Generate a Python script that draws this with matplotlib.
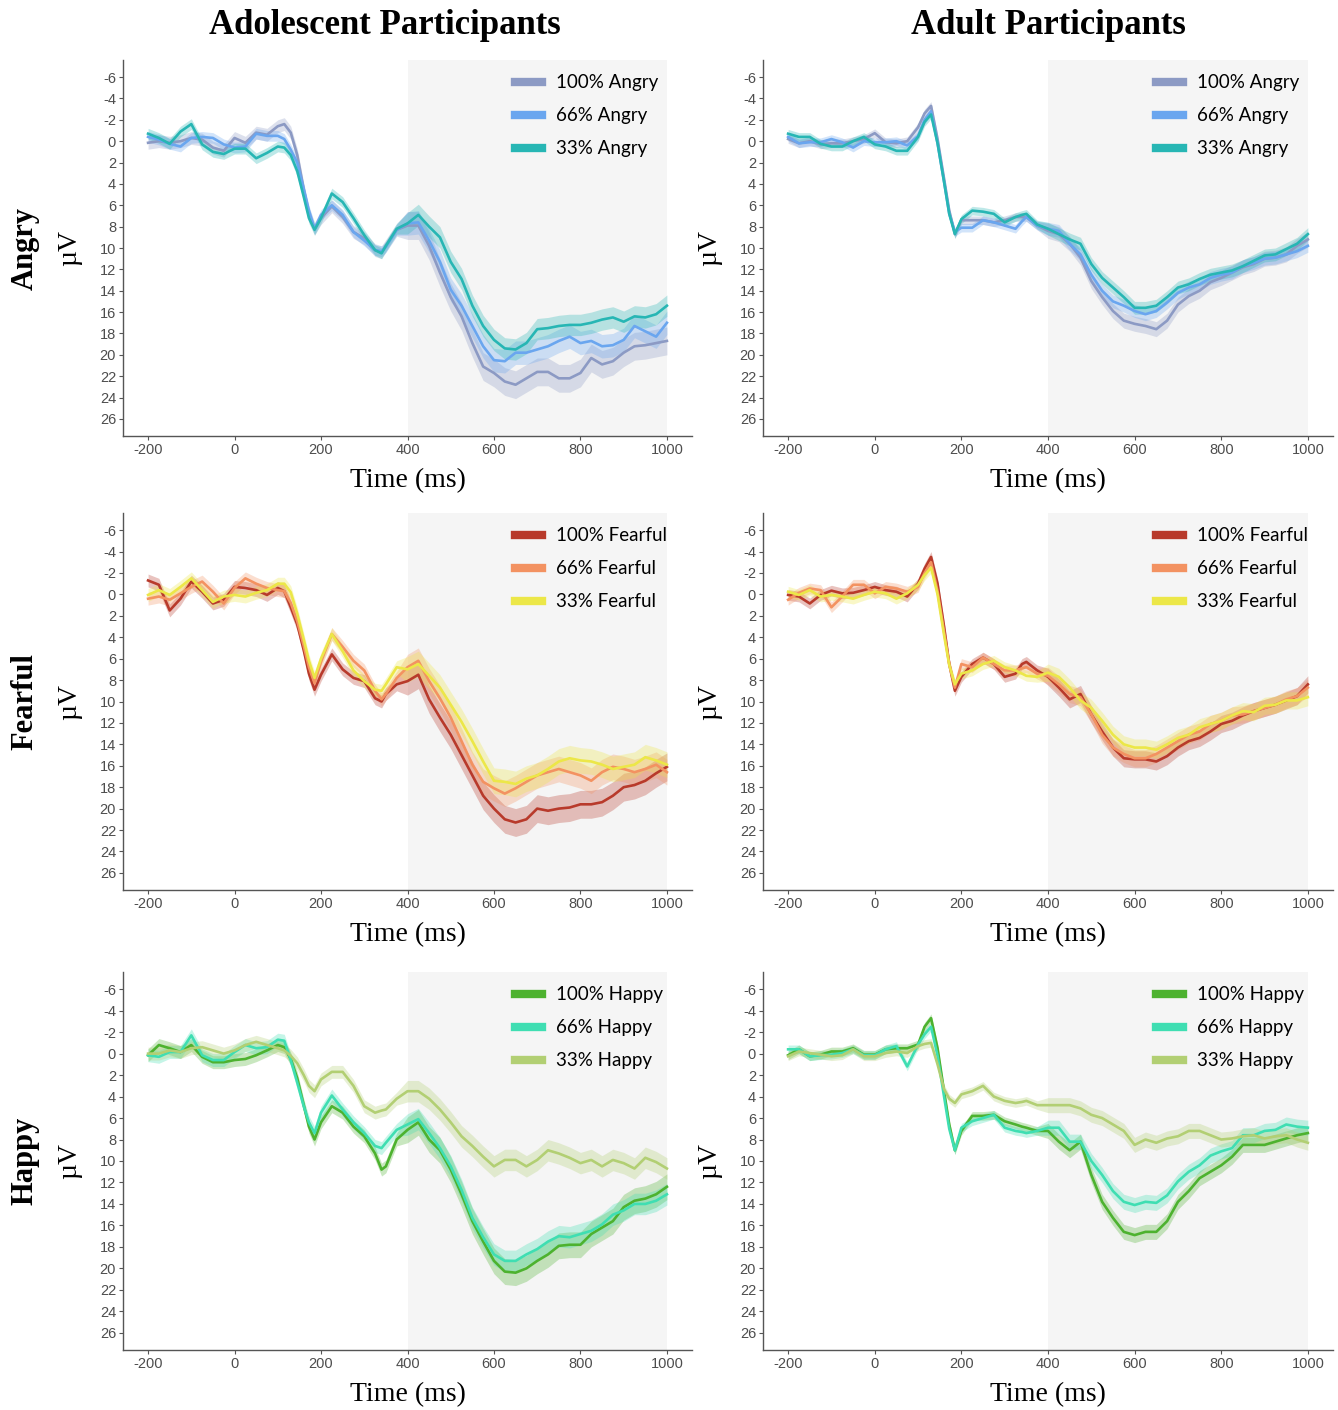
import numpy as np
import matplotlib
matplotlib.use("Agg")
import matplotlib.pyplot as plt
from matplotlib.lines import Line2D

# ---------------- data ----------------
time_ms = [-200, -175, -150, -125, -100, -75, -50, -25, 0, 25, 50, 75, 100,
           115, 130, 145, 160, 172, 185, 200, 225, 250, 275, 300, 325, 340, 350,
           375, 400, 425, 450, 475, 500, 525, 550, 575, 600, 625, 650, 675, 700,
           725, 750, 775, 800, 825, 850, 875, 900, 925, 950, 975, 1000]

column_titles = ["Adolescent Participants", "Adult Participants"]
emotions = ["Angry", "Fearful", "Happy"]
intensities = ["100%", "66%", "33%"]

x_ticks = [-200, 0, 200, 400, 600, 800, 1000]
y_ticks = list(range(-6, 27, 2))
window = [400, 1000]

# Adolescent Angry
ado_angry_100 = [0.15, 0, 0.15, 0, -0.3, -0.15, 0.6, 0.9, -0.3, 0.15, -0.8, -0.6, -1.4,
                 -1.6, -0.8, 1.3, 4.5, 6.8, 8.2, 7.2, 6.1, 7.1, 8.5, 9.1, 10.2, 10.4, 9.8,
                 8.3, 7.9, 7.9, 9.8, 12.3, 14.6, 16.4, 18.9, 21.1, 21.7, 22.5, 22.8, 22.2, 21.6,
                 21.6, 22.2, 22.2, 21.7, 20.3, 20.9, 20.6, 19.8, 19.2, 19.1, 18.9, 18.7]
ado_angry_66 = [-0.4, -0.15, 0.25, 0.5, -0.3, -0.4, -0.3, 0.3, 0.6, 0.5, -0.7, -0.5, -0.5,
                -0.2, 0.8, 2.0, 4.5, 6.5, 8.2, 6.9, 6.0, 6.9, 8.5, 9.3, 10.2, 10.3, 9.9,
                8.3, 7.7, 7.6, 9.3, 11.3, 13.9, 15.4, 17.3, 19.2, 20.5, 20.6, 19.8, 19.8, 19.5,
                19.2, 18.7, 18.3, 18.9, 18.7, 19.2, 19.1, 18.6, 17.3, 17.8, 18.3, 17.0]
ado_angry_33 = [-0.7, -0.3, 0.25, -0.9, -1.6, 0.3, 1.0, 1.2, 0.7, 0.7, 1.6, 1.1, 0.5,
                0.6, 1.3, 2.8, 5.2, 7.2, 8.3, 7.2, 4.9, 5.7, 7.2, 8.8, 10.2, 10.5, 9.8,
                8.2, 7.7, 6.9, 8.0, 9.0, 11.3, 12.9, 15.4, 17.3, 18.6, 19.4, 19.5, 18.9, 17.6,
                17.5, 17.3, 17.2, 17.2, 17.0, 16.7, 16.5, 16.9, 16.4, 16.5, 16.2, 15.4]

# Adult Angry
adu_angry_100 = [-0.2, 0.2, 0, 0.3, 0.2, 0.2, 0, -0.2, -0.75, 0.1, 0.2, 0, -1.3,
                 -2.6, -3.3, -0.2, 3.5, 6.5, 8.7, 7.4, 7.4, 7.4, 7.6, 7.4, 7.1, 7.1, 7.1,
                 7.9, 8.4, 8.7, 9.6, 10.9, 13.1, 14.6, 15.9, 16.8, 17.1, 17.3, 17.6, 16.8, 15.3,
                 14.5, 14.0, 13.2, 12.8, 12.3, 11.8, 11.5, 11.0, 10.9, 10.6, 9.8, 9.2]
adu_angry_66 = [-0.4, 0.2, 0.1, 0.1, -0.2, 0.1, 0.6, 0, 0.1, 0.1, 0, 0.4, -0.5,
                -2.0, -2.8, 0.2, 3.8, 6.8, 8.5, 8.1, 8.1, 7.4, 7.6, 7.9, 8.2, 7.5, 7.1,
                7.9, 8.2, 8.4, 9.6, 10.6, 12.5, 14.0, 15.0, 15.4, 15.9, 16.2, 15.9, 15.1, 14.2,
                13.7, 13.4, 12.8, 12.5, 12.3, 11.7, 11.4, 11.0, 10.9, 10.6, 10.3, 9.8]
adu_angry_33 = [-0.7, -0.4, -0.4, 0.25, 0.5, 0.5, 0, -0.4, 0.3, 0.5, 0.9, 0.9, -0.4,
                -1.8, -2.5, 0.2, 3.8, 6.8, 8.7, 7.3, 6.5, 6.6, 6.8, 7.6, 7.1, 6.9, 6.8,
                7.8, 8.2, 8.7, 9.2, 9.6, 11.5, 12.8, 13.7, 14.6, 15.6, 15.6, 15.4, 14.6, 13.7,
                13.4, 12.9, 12.5, 12.3, 12.1, 11.7, 11.2, 10.7, 10.6, 10.1, 9.6, 8.7]

# Adolescent Fearful
ado_fear_100 = [-1.3, -0.9, 1.5, 0.4, -1.2, -0.25, 0.85, 0.5, -0.7, -0.6, -0.4, 0.05, -0.6,
                -0.3, 1.2, 2.8, 5.2, 7.4, 8.9, 7.5, 5.6, 7.0, 7.8, 8.1, 9.7, 10.0, 9.3,
                8.4, 8.1, 7.5, 9.8, 11.5, 13.1, 15.0, 16.9, 18.8, 20.0, 21.0, 21.3, 21.0, 20.0,
                20.2, 20.0, 19.9, 19.6, 19.6, 19.4, 18.8, 18.0, 17.8, 17.4, 16.7, 16.1]
ado_fear_66 = [0.4, 0.2, 0.5, -0.1, -0.7, -1.2, -0.25, 0.85, -0.6, -1.5, -1.0, -0.6, -0.4,
               -0.3, 0.8, 2.5, 4.8, 6.8, 8.3, 6.3, 3.7, 4.9, 6.2, 7.1, 9.0, 9.8, 9.3,
               7.8, 6.8, 6.2, 8.1, 9.7, 11.5, 13.7, 15.9, 17.5, 18.1, 18.6, 18.1, 17.5, 16.9,
               16.6, 16.3, 16.6, 16.9, 17.4, 16.6, 16.1, 16.3, 16.6, 16.3, 15.9, 16.6]
ado_fear_33 = [0.05, -0.4, 0.05, -0.7, -1.5, -0.4, 0.7, 0.2, 0.05, 0.2, -0.15, -0.4, -1.0,
               -1.0, -0.2, 1.8, 4.2, 6.2, 7.8, 6.0, 3.7, 5.3, 7.1, 8.1, 8.9, 9.0, 8.4,
               6.8, 7.0, 6.5, 7.6, 8.7, 10.3, 11.9, 13.7, 15.6, 17.4, 17.5, 17.7, 17.2, 16.9,
               16.3, 15.6, 15.3, 15.5, 15.6, 15.9, 16.3, 16.1, 15.9, 15.2, 15.5, 15.9]

# Adult Fearful
adu_fear_100 = [0.05, 0.2, 0.85, 0.05, -0.35, -0.1, -0.15, -0.4, -0.7, -0.4, -0.25, 0.2, -1.0,
                -2.4, -3.5, -1.0, 3.0, 6.5, 9.0, 7.7, 6.5, 5.9, 6.5, 7.7, 7.4, 6.5, 6.3,
                7.1, 7.7, 8.7, 9.8, 9.3, 11.2, 12.8, 14.3, 15.3, 15.4, 15.4, 15.6, 15.1, 14.3,
                13.7, 13.4, 12.8, 12.1, 11.8, 11.3, 10.9, 10.6, 10.3, 9.9, 9.5, 8.4]
adu_fear_66 = [0.5, -0.15, -0.55, -0.4, 1.2, 0.2, -0.9, -0.9, -0.1, -0.7, -0.55, -0.25, -0.7,
               -2.0, -3.0, -0.3, 3.5, 6.5, 8.7, 6.5, 6.8, 5.9, 6.5, 7.1, 7.1, 6.9, 6.8,
               7.4, 7.6, 8.4, 9.3, 9.6, 11.2, 13.1, 14.3, 14.9, 15.3, 15.3, 14.9, 14.3, 13.7,
               13.1, 12.8, 12.1, 11.8, 11.3, 11.2, 10.9, 10.6, 10.3, 9.8, 9.5, 8.7]
adu_fear_33 = [-0.25, 0.05, -0.4, 0.2, 0.05, 0.2, 0.4, 0.05, -0.25, -0.1, 0.4, -0.1, -0.9,
               -1.8, -2.5, 0, 3.8, 6.6, 8.4, 7.4, 7.1, 6.5, 6.2, 6.8, 7.1, 7.4, 7.6,
               7.7, 7.3, 7.7, 8.7, 9.9, 10.6, 11.8, 13.1, 14.0, 14.3, 14.3, 14.5, 14.0, 13.4,
               13.1, 12.4, 12.1, 11.8, 11.3, 10.9, 11.0, 10.4, 10.3, 9.9, 9.9, 9.6]

# Adolescent Happy
ado_happy_100 = [0.15, -0.8, -0.5, -0.15, -0.8, 0.3, 0.8, 0.8, 0.6, 0.5, 0.15, -0.3, -0.8,
                 -0.6, 0.5, 2.3, 4.8, 6.8, 8.0, 6.4, 4.9, 5.5, 6.8, 7.7, 9.3, 10.8, 10.5,
                 8.0, 7.1, 6.4, 8.0, 9.0, 10.8, 13.1, 15.6, 17.5, 19.3, 20.3, 20.4, 20.0, 19.3,
                 18.7, 17.9, 17.8, 17.8, 16.8, 16.2, 15.6, 14.3, 13.7, 13.5, 13.1, 12.4]
ado_happy_66 = [0.15, 0.3, -0.15, -0.15, -1.7, 0.15, 0.6, 0.6, -0.15, -0.8, -0.5, -0.6, -1.3,
                -1.2, 0.6, 2.7, 4.9, 6.4, 7.4, 5.5, 3.9, 5.2, 6.4, 7.4, 8.6, 8.8, 8.3,
                7.1, 6.6, 6.1, 7.4, 8.8, 10.5, 12.7, 15.3, 17.1, 18.7, 19.3, 19.3, 18.7, 18.2,
                17.5, 17.0, 17.1, 16.8, 16.5, 15.9, 15.0, 14.6, 14.0, 14.0, 13.7, 13.1]
ado_happy_33 = [0, 0, -0.3, -0.15, -0.5, -0.6, -0.3, 0, -0.3, -0.8, -1.1, -0.8, -0.5,
                -0.3, 0.2, 0.9, 2.0, 3.0, 3.5, 2.4, 1.7, 1.7, 3.0, 4.9, 5.5, 5.3, 5.2,
                4.2, 3.5, 3.5, 4.2, 5.2, 6.4, 7.7, 8.6, 9.6, 10.5, 9.9, 9.9, 10.5, 9.9,
                9.0, 9.3, 9.7, 10.2, 9.9, 10.5, 9.9, 10.2, 10.7, 9.7, 10.1, 10.7]

# Adult Happy
adu_happy_100 = [0.15, -0.4, 0.25, 0.1, -0.2, -0.2, -0.5, 0.1, 0.1, -0.4, -0.5, -0.5, -0.85,
                 -2.5, -3.3, -0.5, 3.5, 6.6, 9.0, 7.2, 5.8, 5.8, 5.7, 6.3, 6.6, 6.8, 6.9,
                 7.2, 7.2, 8.2, 9.0, 8.2, 11.3, 13.8, 15.3, 16.6, 16.9, 16.6, 16.6, 15.6, 13.8,
                 12.8, 11.6, 11.0, 10.4, 9.6, 8.5, 8.5, 8.5, 8.2, 7.9, 7.6, 7.4]
adu_happy_66 = [-0.4, -0.4, 0.25, 0.15, 0.1, -0.05, -0.4, 0.15, 0.15, -0.4, -0.7, 1.2, -0.85,
                -1.8, -2.5, 0.2, 4.0, 7.0, 9.0, 6.9, 6.3, 6.0, 5.7, 6.9, 7.2, 7.3, 7.4,
                7.2, 6.9, 6.9, 8.2, 8.2, 10.0, 11.3, 12.8, 13.8, 14.1, 13.8, 13.9, 13.2, 11.9,
                11.0, 10.4, 9.5, 9.1, 8.8, 7.6, 7.6, 7.2, 7.1, 6.6, 6.8, 6.9]
adu_happy_33 = [0.25, -0.2, -0.05, 0.1, 0.25, 0.15, -0.4, 0.25, 0.25, -0.05, -0.2, -0.05, -0.7,
                -0.9, -1.0, 1.0, 3.3, 4.2, 4.6, 3.8, 3.5, 3.0, 4.0, 4.4, 4.6, 4.5, 4.4,
                4.8, 4.8, 4.8, 4.8, 5.1, 5.7, 6.0, 6.6, 7.2, 8.5, 8.0, 8.3, 7.9, 7.7,
                7.2, 7.2, 7.6, 8.0, 7.9, 7.7, 7.6, 7.9, 7.7, 7.6, 8.0, 8.3]

# standard-error half widths [before 400 ms, from 400 ms]
ado_angry_se = [[0.6, 1.3], [0.5, 1.1], [0.5, 1.0]]
adu_angry_se = [[0.4, 0.7], [0.4, 0.6], [0.4, 0.6]]
ado_fear_se = [[0.6, 1.3], [0.6, 1.2], [0.6, 1.2]]
adu_fear_se = [[0.5, 0.8], [0.5, 0.8], [0.5, 0.8]]
ado_happy_se = [[0.6, 1.2], [0.6, 1.0], [0.6, 1.0]]
adu_happy_se = [[0.4, 0.7], [0.4, 0.7], [0.4, 0.7]]

angry_colors = ["#8c9ac4", "#6aa6ef", "#27b6b4"]
fear_colors = ["#b83a2b", "#f39261", "#ece748"]
happy_colors = ["#4db22f", "#3fdeb2", "#b2cf73"]

panels = {
    (0, 0): ([ado_angry_100, ado_angry_66, ado_angry_33], ado_angry_se, angry_colors),
    (0, 1): ([adu_angry_100, adu_angry_66, adu_angry_33], adu_angry_se, angry_colors),
    (1, 0): ([ado_fear_100, ado_fear_66, ado_fear_33], ado_fear_se, fear_colors),
    (1, 1): ([adu_fear_100, adu_fear_66, adu_fear_33], adu_fear_se, fear_colors),
    (2, 0): ([ado_happy_100, ado_happy_66, ado_happy_33], ado_happy_se, happy_colors),
    (2, 1): ([adu_happy_100, adu_happy_66, adu_happy_33], adu_happy_se, happy_colors),
}

# ---------------- figure ----------------
W, H = 1338, 1410
fig = plt.figure(figsize=(W / 100, H / 100), dpi=100)

col_left = [123, 763]
col_right = [692, 1333]
row_top = [60, 513, 972]
row_bottom = [436, 890, 1350]
title_x = [385, 1048]

serif = ["Liberation Serif", "DejaVu Serif"]
tick_font = ["Liberation Sans Narrow", "Liberation Sans", "DejaVu Sans"]
legend_font = ["Lato", "Open Sans", "DejaVu Sans"]
axis_gray = "#555555"

t = np.array(time_ms, dtype=float)

for (r, c), (series, ses, colors) in panels.items():
    x0, x1 = col_left[c], col_right[c]
    y0, y1 = row_top[r], row_bottom[r]
    ax = fig.add_axes([x0 / W, 1 - y1 / H, (x1 - x0) / W, (y1 - y0) / H])
    ax.axvspan(window[0], window[1], color="#f5f5f5", zorder=0, lw=0)
    handles = []
    for k in range(3):
        v = np.array(series[k])
        se = np.where(t < 400, ses[k][0], ses[k][1])
        ax.fill_between(t, v - se, v + se, color=colors[k], alpha=0.3, lw=0, zorder=2)
    for k in range(3):
        v = np.array(series[k])
        ax.plot(t, v, color=colors[k], lw=1.9, zorder=3 + k)
        handles.append(Line2D([0], [0], color=colors[k], lw=6,
                              label=f"{intensities[k]} {emotions[r]}"))
    ax.set_xlim(-258, 1058)
    ax.set_ylim(27.6, -7.6)
    ax.set_xticks(x_ticks)
    ax.set_yticks(y_ticks)
    ax.set_xticklabels([str(v) for v in x_ticks], family=tick_font, fontsize=10.5, color="#4d4d4d")
    ax.set_yticklabels([str(v) for v in y_ticks], family=tick_font, fontsize=10.5, color="#4d4d4d")
    ax.tick_params(axis="both", length=3, width=0.8, color=axis_gray, pad=2)
    for s in ["top", "right"]:
        ax.spines[s].set_visible(False)
    for s in ["left", "bottom"]:
        ax.spines[s].set_color(axis_gray)
        ax.spines[s].set_linewidth(1.0)
    ax.set_xlabel("Time (ms)", family=serif, fontsize=20, labelpad=8)
    ax.legend(handles=handles, loc="upper left", bbox_to_anchor=(0.689, 0.962),
              frameon=False, prop={"family": legend_font, "size": 13.5},
              handlelength=1.45, handletextpad=0.75, labelspacing=0.85,
              borderpad=0, borderaxespad=0)
    # µV label
    fig.text((x0 - 53) / W, 1 - ((y0 + y1) / 2) / H, "µV", family=serif, fontsize=20,
             rotation=90, ha="center", va="center")

for c in range(2):
    fig.text(title_x[c] / W, 1 - 25 / H, column_titles[c],
             family=serif, fontsize=25, fontweight="bold", ha="center", va="center")

for r in range(3):
    fig.text(25 / W, 1 - ((row_top[r] + row_bottom[r]) / 2) / H, emotions[r], family=serif,
             fontsize=22, fontweight="bold", rotation=90, ha="center", va="center")

fig.savefig("out.png", dpi=100)
